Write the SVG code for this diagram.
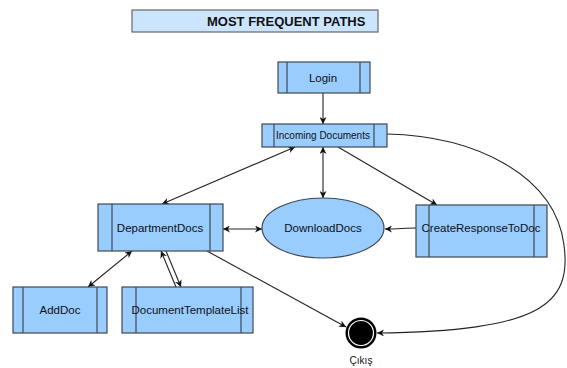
<svg xmlns="http://www.w3.org/2000/svg" width="567" height="368" viewBox="0 0 567 368">
<defs>
<style>
.node{fill:#99ccff;stroke:#404850;stroke-width:1.2}
.bar{stroke:#404850;stroke-width:1.2}
.lbl{font-family:"Liberation Sans",Arial,sans-serif;font-size:11.5px;fill:#111;text-anchor:middle;dominant-baseline:central}
.edge{fill:none;stroke:#222;stroke-width:1.1}
</style>
<marker id="ah" viewBox="0 0 10 10" refX="10" refY="5" markerWidth="7" markerHeight="7" orient="auto-start-reverse" markerUnits="userSpaceOnUse">
<path d="M0,0 L10,5 L0,10 L3,5 Z" fill="#111"/>
</marker>
</defs>
<rect width="567" height="368" fill="#fff"/>
<g id="title">
<rect x="132" y="10" width="246" height="22" fill="#cce5ff" stroke="#666" stroke-width="1.2"/>
<text x="207" y="21.5" class="lbl" style="font-weight:bold;font-size:13px;text-anchor:start">MOST FREQUENT PATHS</text>
</g>
<g id="connectors">
<line class="edge" x1="323" y1="93" x2="323" y2="124" marker-end="url(#ah)"/>
<line class="edge" x1="295" y1="147" x2="162" y2="204" marker-start="url(#ah)" marker-end="url(#ah)"/>
<line class="edge" x1="323" y1="147" x2="323" y2="198" marker-start="url(#ah)" marker-end="url(#ah)"/>
<line class="edge" x1="338" y1="147" x2="437" y2="205" marker-end="url(#ah)"/>
<path class="edge" d="M416,228 C405,228 398,229 385,229" marker-end="url(#ah)"/>
<line class="edge" x1="223" y1="229" x2="262" y2="229" marker-start="url(#ah)" marker-end="url(#ah)"/>
<line class="edge" x1="132" y1="251" x2="88" y2="287" marker-start="url(#ah)" marker-end="url(#ah)"/>
<line class="edge" x1="161" y1="251" x2="176" y2="287" marker-start="url(#ah)"/>
<line class="edge" x1="166" y1="251" x2="181" y2="287" marker-end="url(#ah)"/>
<line class="edge" x1="207" y1="251" x2="346" y2="327" marker-end="url(#ah)"/>
<path class="edge" d="M387,134 C475,136 555,175 564,245 C572,305 540,331 377,333" marker-end="url(#ah)"/>
</g>
<g id="login">
<rect class="node" x="278" y="62" width="92" height="31"/>
<line class="bar" x1="287" y1="62" x2="287" y2="93"/>
<line class="bar" x1="360" y1="62" x2="360" y2="93"/>
<text class="lbl" x="323" y="77.5">Login</text>
</g>
<g id="incoming">
<rect class="node" x="262" y="124" width="125" height="23"/>
<line class="bar" x1="274" y1="124" x2="274" y2="147"/>
<line class="bar" x1="374" y1="124" x2="374" y2="147"/>
<text class="lbl" x="323" y="135.5" style="font-size:10px">Incoming Documents</text>
</g>
<g id="department">
<rect class="node" x="98" y="204" width="125" height="47"/>
<line class="bar" x1="112" y1="204" x2="112" y2="251"/>
<line class="bar" x1="210" y1="204" x2="210" y2="251"/>
<text class="lbl" x="160" y="228">DepartmentDocs</text>
</g>
<g id="download">
<ellipse class="node" cx="323" cy="228" rx="61" ry="30"/>
<text class="lbl" x="323" y="228">DownloadDocs</text>
</g>
<g id="createresponse">
<rect class="node" x="416" y="205" width="131" height="52"/>
<line class="bar" x1="429" y1="205" x2="429" y2="257"/>
<line class="bar" x1="534" y1="205" x2="534" y2="257"/>
<text class="lbl" x="481" y="228">CreateResponseToDoc</text>
</g>
<g id="adddoc">
<rect class="node" x="13" y="287" width="94" height="46"/>
<line class="bar" x1="23" y1="287" x2="23" y2="333"/>
<line class="bar" x1="97" y1="287" x2="97" y2="333"/>
<text class="lbl" x="60" y="310">AddDoc</text>
</g>
<g id="templatelist">
<rect class="node" x="122" y="287" width="131" height="46"/>
<line class="bar" x1="136" y1="287" x2="136" y2="333"/>
<line class="bar" x1="241" y1="287" x2="241" y2="333"/>
<text class="lbl" x="190" y="310">DocumentTemplateList</text>
</g>
<g id="cikis">
<circle cx="361" cy="333" r="15.5" fill="#000"/>
<circle cx="361" cy="333" r="12.5" fill="none" stroke="#fff" stroke-width="1.2"/>
<text class="lbl" x="361" y="360" style="font-size:10px">Çıkış</text>
</g>
</svg>
